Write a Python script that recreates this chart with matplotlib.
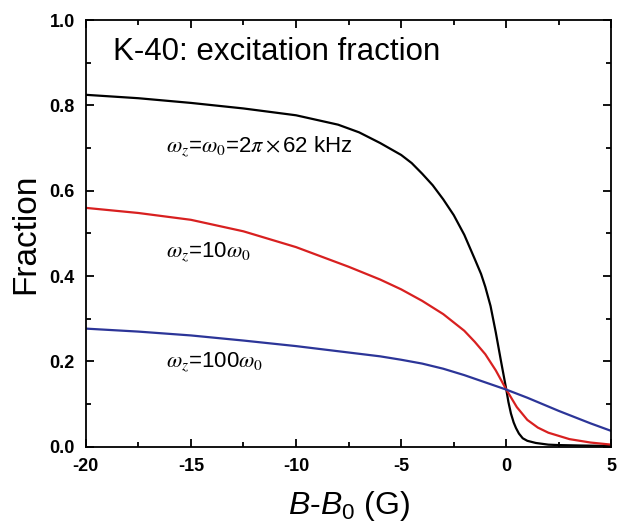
import numpy as np
import matplotlib
matplotlib.use("Agg")
import matplotlib.pyplot as plt
from matplotlib.ticker import MultipleLocator

# values
x_black = [-20, -17.5, -15, -12.5, -10, -8, -7, -6, -5, -4.5, -4, -3.5, -3, -2.5, -2, -1.5,
           -1.2, -1, -0.75, -0.5, -0.25, 0, 0.1, 0.22, 0.35, 0.46, 0.6, 0.78, 1.0, 1.4, 2, 2.5,
           3.5, 5]
y_black = [0.825, 0.817, 0.806, 0.793, 0.777, 0.755, 0.737, 0.712, 0.684, 0.665, 0.64, 0.613,
           0.58, 0.543, 0.497, 0.44, 0.405, 0.375, 0.33, 0.268, 0.2, 0.134, 0.105, 0.078,
           0.057, 0.044, 0.031, 0.02, 0.014, 0.009, 0.005, 0.004, 0.003, 0.002]

x_red = [-20, -17.5, -15, -12.5, -10, -7.5, -6, -5, -4, -3, -2, -1.5, -1, -0.5, 0, 0.5, 1,
         1.5, 2, 3, 4, 5]
y_red = [0.56, 0.548, 0.532, 0.505, 0.468, 0.422, 0.392, 0.369, 0.342, 0.311, 0.272, 0.246,
         0.217, 0.179, 0.134, 0.093, 0.063, 0.045, 0.033, 0.018, 0.01, 0.005]

x_blue = [-20, -17.5, -15, -12.5, -10, -7.5, -6, -5, -4, -3, -2, -1, 0, 1, 2.5, 4, 5]
y_blue = [0.277, 0.27, 0.261, 0.249, 0.236, 0.221, 0.212, 0.204, 0.195, 0.183, 0.168, 0.151,
          0.134, 0.115, 0.084, 0.055, 0.037]

labels = [r'$\omega_z$=$\omega_0$=2$\pi\times$62 kHz', r'$\omega_z$=10$\omega_0$',
          r'$\omega_z$=100$\omega_0$']
label_y = [0.69, 0.443, 0.186]

plt.rcParams['font.family'] = ['Liberation Sans', 'DejaVu Sans']
plt.rcParams['axes.unicode_minus'] = False
plt.rcParams['mathtext.fontset'] = 'custom'
plt.rcParams['mathtext.rm'] = 'Liberation Sans'
plt.rcParams['mathtext.it'] = 'Liberation Sans:italic'

fig = plt.figure(figsize=(6.17, 5.30), dpi=100)
ax = fig.add_axes([0.139, 0.157, 0.852, 0.805])

ax.plot(x_black, y_black, color='black', lw=1.6)
ax.plot(x_red, y_red, color='#d82020', lw=1.6)
ax.plot(x_blue, y_blue, color='#2c3598', lw=1.6)

ax.set_xlim(-20, 5)
ax.set_ylim(0, 1.0)
ax.xaxis.set_major_locator(MultipleLocator(5))
ax.xaxis.set_minor_locator(MultipleLocator(2.5))
ax.yaxis.set_major_locator(MultipleLocator(0.2))
ax.yaxis.set_minor_locator(MultipleLocator(0.1))
ax.yaxis.set_major_formatter(plt.FormatStrFormatter('%.1f'))
ax.tick_params(which='both', direction='in', top=True, right=True, width=1.3)
ax.tick_params(which='major', length=6, labelsize=13)
ax.tick_params(axis='x', which='major', pad=8)
ax.tick_params(axis='y', which='major', pad=8)
ax.tick_params(which='minor', length=3.5)
for lab in ax.get_xticklabels() + ax.get_yticklabels():
    lab.set_fontweight('bold')
for s in ax.spines.values():
    s.set_linewidth(1.3)

ax.set_ylabel('Fraction', fontsize=24, labelpad=6)
ax.set_xlabel(r'$B$-$B_0$ (G)', fontsize=23, labelpad=10, math_fontfamily='custom')

ax.text(-18.7, 0.925, 'K-40: excitation fraction', fontsize=22.5, va='center')
for lab, ly in zip(labels, label_y):
    ax.text(-16.2, ly, lab, fontsize=16, va='baseline', math_fontfamily='stix')

fig.savefig('out.png', dpi=100)
